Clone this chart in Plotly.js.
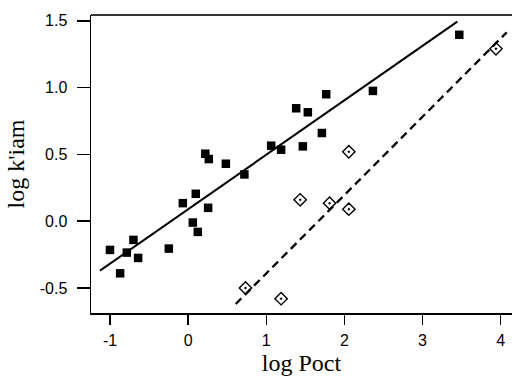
<!DOCTYPE html>
<html>
<head>
<meta charset="utf-8">
<script src="https://cdn.plot.ly/plotly-3.0.1.min.js"></script>
<style>html,body{margin:0;padding:0;background:#fff;}#chart{width:512px;height:379px;}</style>
</head>
<body>
<div id="chart"></div>
<script>
// Filled squares series
var sqX = [-1.00, -0.87, -0.785, -0.70, -0.64, -0.247, -0.068, 0.098, 0.06, 0.124, 0.256, 0.22, 0.265, 0.483, 0.72, 1.063, 1.19, 1.383, 1.532, 1.468, 1.712, 1.767, 2.365, 3.47];
var sqY = [-0.215, -0.39, -0.235, -0.14, -0.275, -0.205, 0.135, 0.205, -0.01, -0.08, 0.10, 0.505, 0.465, 0.43, 0.35, 0.565, 0.535, 0.845, 0.815, 0.56, 0.66, 0.95, 0.975, 1.395];
// Open diamonds series
var dmX = [0.734, 1.19, 1.434, 1.81, 2.057, 2.057, 3.94];
var dmY = [-0.50, -0.58, 0.16, 0.135, 0.09, 0.52, 1.29];
// Fitted lines (endpoints)
var solidX = [-1.128, 3.445];
var solidY = [-0.37, 1.493];
var dashX = [0.609, 4.077];
var dashY = [-0.62, 1.413];
// Tick labels
var xTicks = [-1, 0, 1, 2, 3, 4];
var yTicks = [-0.5, 0.0, 0.5, 1.0, 1.5];
var yTickText = ['-0.5', '0.0', '0.5', '1.0', '1.5'];

var traces = [
  {x: solidX, y: solidY, mode: 'lines', line: {color: '#000', width: 2}, hoverinfo: 'skip'},
  {x: dashX, y: dashY, mode: 'lines', line: {color: '#000', width: 2.3, dash: '8px,5px'}, hoverinfo: 'skip'},
  {x: sqX, y: sqY, mode: 'markers', marker: {symbol: 'square', size: 8.5, color: '#000'}},
  {x: dmX, y: dmY, mode: 'markers', marker: {symbol: 'diamond-open-dot', size: 9.5, color: '#000', line: {width: 1.4, color: '#000'}}}
];

var layout = {
  width: 512, height: 379,
  margin: {l: 91, r: 0, t: 15, b: 66, pad: 0},
  showlegend: false,
  paper_bgcolor: '#fff', plot_bgcolor: '#fff',
  font: {family: '"Liberation Sans", Arial, sans-serif', size: 16, color: '#000'},
  xaxis: {
    range: [-1.243, 4.145], tickvals: xTicks, ticktext: xTicks.map(String),
    showgrid: false, zeroline: false, showline: true, linecolor: '#000', linewidth: 1.5,
    ticks: 'outside', ticklen: 10, tickwidth: 1.5, tickcolor: '#000',
    tickfont: {size: 16}, ticklabelstandoff: 2,
    title: {text: 'log Poct', font: {family: '"Liberation Serif", "Times New Roman", serif', size: 24}, standoff: 6}
  },
  yaxis: {
    range: [-0.687, 1.543], tickvals: yTicks, ticktext: yTickText,
    showgrid: false, zeroline: false, showline: true, linecolor: '#000', linewidth: 1.5,
    ticks: 'outside', ticklen: 13, tickwidth: 1.5, tickcolor: '#000',
    tickfont: {size: 16}, ticklabelstandoff: 6,
    title: {text: "log k'iam", font: {family: '"Liberation Serif", "Times New Roman", serif', size: 24}, standoff: 8}
  },
  shapes: [
    {type: 'line', xref: 'paper', yref: 'paper', x0: 0, x1: 1, y0: 1, y1: 1, line: {color: '#333', width: 2.2}}
  ]
};

Plotly.newPlot('chart', traces, layout, {displayModeBar: false, staticPlot: true});
</script>
</body>
</html>
